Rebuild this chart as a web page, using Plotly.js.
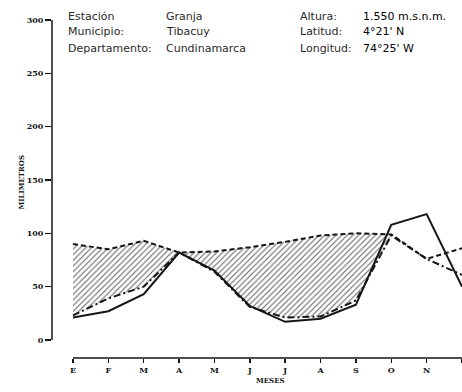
<!DOCTYPE html>
<html><head><meta charset="utf-8">
<script src="https://cdn.plot.ly/plotly-3.0.1.min.js"></script>
<style>html,body{margin:0;padding:0;background:#fff}#chart{width:462px;height:392px}</style>
</head><body><div id="chart"></div>
<script>
// Data
const months = ['E','F','M','A','M','J','J','A','S','O','N','D'];
const precipitacion = [21, 27, 43, 82, 65, 32, 17, 20, 33, 108, 118, 50];
const evapPotencial = [90, 85, 93, 82, 83, 87, 92, 98, 100, 99, 76, 86];
const evapReal      = [23, 39, 50, 82, 64, 31, 21, 22, 37, 98, 76, 61];
const deficitMonths = 10; // hatched deficit spans E..O
const yTicks = [0, 50, 100, 150, 200, 250, 300];
const infoLeftLabels  = ['Estación', 'Municipio:', 'Departamento:'];
const infoLeftValues  = ['Granja', 'Tibacuy', 'Cundinamarca'];
const infoRightLabels = ['Altura:', 'Latitud:', 'Longitud:'];
const infoRightValues = ['1.550 m.s.n.m.', '4°21\' N', '74°25\' W'];

const W = 462, H = 392, ML = 52, MR = 0, MT = 10, MB = 34;
const PW = W - ML - MR, PH = H - MT - MB;
const px = x => (x - ML) / PW;
const py = y => (H - MB - y) / PH;

const xIdx = months.map((_, i) => i);
const ink = '#151515';
const serif = 'DejaVu Serif';
const sans = 'DejaVu Sans';

const traces = [
  { x: xIdx.slice(0, deficitMonths), y: evapReal.slice(0, deficitMonths), mode: 'lines',
    line: { width: 0, color: 'rgba(0,0,0,0)' }, hoverinfo: 'skip', showlegend: false },
  { x: xIdx.slice(0, deficitMonths), y: evapPotencial.slice(0, deficitMonths), mode: 'lines',
    fill: 'tonexty', fillcolor: 'rgba(255,255,255,0)',
    fillpattern: { shape: '/', size: 4, solidity: 0.28, fgcolor: '#666', bgcolor: 'rgba(255,255,255,0)' },
    line: { width: 0, color: 'rgba(0,0,0,0)' }, hoverinfo: 'skip', showlegend: false },
  { x: xIdx, y: precipitacion, mode: 'lines', name: 'Precipitación',
    line: { color: ink, width: 2 } },
  { x: xIdx, y: evapPotencial, mode: 'lines', name: 'Evapotranspiración potencial',
    line: { color: ink, width: 2, dash: '5px,3px' } },
  { x: xIdx, y: evapReal, mode: 'lines', name: 'Evapotranspiración real',
    line: { color: ink, width: 2, dash: '7px,3px,2px,3px' } }
];

const annotations = [];
const rowsY = [16, 32, 48];
for (let i = 0; i < 3; i++) {
  const common = { xref: 'paper', yref: 'paper', showarrow: false, xanchor: 'left', yanchor: 'middle',
                   font: { family: sans, size: 11, color: '#2a2a2a' }, y: py(rowsY[i]) };
  annotations.push(Object.assign({}, common, { x: px(66), text: infoLeftLabels[i] }));
  annotations.push(Object.assign({}, common, { x: px(164), text: infoLeftValues[i] }));
  annotations.push(Object.assign({}, common, { x: px(298), text: infoRightLabels[i] }));
  annotations.push(Object.assign({}, common, { x: px(361), text: infoRightValues[i],
    font: { family: sans, size: 11, color: '#000' } }));
}
annotations.push({ xref: 'paper', yref: 'paper', x: px(14), y: py(183), showarrow: false,
  text: 'MILIMETROS', textangle: -90, font: { family: serif, size: 7, color: ink, weight: 'bold' } });
annotations.push({ xref: 'paper', yref: 'paper', x: px(270), y: py(387), showarrow: false,
  text: 'MESES', font: { family: serif, size: 7, color: ink, weight: 'bold' } });

const layout = {
  width: W, height: H,
  margin: { l: ML, r: MR, t: MT, b: MB },
  paper_bgcolor: '#fff', plot_bgcolor: '#fff',
  showlegend: false,
  xaxis: {
    range: [-(73 - ML) / 35.4, 11], tickvals: xIdx, ticktext: months,
    showgrid: false, zeroline: false, showline: false,
    ticks: 'outside', ticklen: 4, tickwidth: 1.5, tickcolor: ink,
    tickfont: { family: serif, size: 8, color: ink, weight: 'bold' }
  },
  yaxis: {
    range: [-16.9, 309.4], tickvals: yTicks,
    showgrid: false, zeroline: false, showline: false,
    ticks: 'outside', ticklen: 6, tickwidth: 1.5, tickcolor: ink,
    tickfont: { family: serif, size: 8, color: ink, weight: 'bold' }
  },
  shapes: [
    { type: 'line', xref: 'paper', yref: 'y', x0: 0, x1: 0, y0: yTicks[0], y1: yTicks[yTicks.length - 1],
      line: { color: ink, width: 1.5 } },
    { type: 'line', xref: 'x', yref: 'paper', x0: xIdx[0], x1: xIdx[xIdx.length - 1], y0: 0, y1: 0,
      line: { color: ink, width: 1.5 } }
  ],
  annotations: annotations
};

Plotly.newPlot('chart', traces, layout, { staticPlot: true, displayModeBar: false });
</script>
</body></html>
